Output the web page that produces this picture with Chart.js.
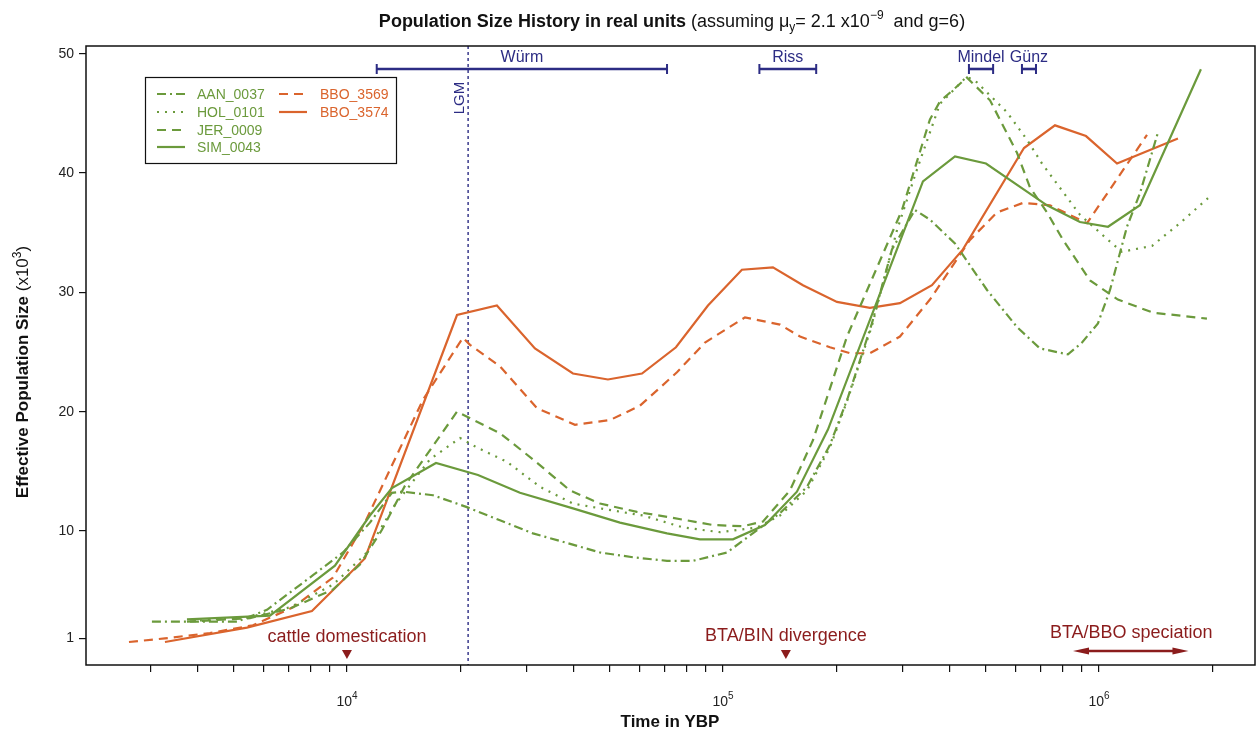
<!DOCTYPE html>
<html>
<head>
<meta charset="utf-8">
<title>Population Size History</title>
<script src="https://cdn.jsdelivr.net/npm/chart.js@4.4.1/dist/chart.umd.min.js"></script>
<style>
html, body { margin: 0; padding: 0; background: #fff; }
#wrap { position: relative; width: 1256px; height: 733px; }
</style>
</head>
<body>
<div id="wrap"><canvas id="psmcChart" width="1256" height="733"></canvas></div>
<script>
// years before present (x) and effective population size in thousands (y)
const aanX = [3029, 5098, 6128, 8122, 9759, 11510, 13170, 14090, 16930, 20850, 25520, 31240, 38470, 47100, 57640, 70990, 83230, 102500, 141800, 167300, 192500, 215000, 249000, 281500, 323900, 355200, 414000, 503800, 605300, 696800, 827200, 901500, 993800, 1070000, 1187000, 1285000, 1435000];
const aanY = [2.4, 2.4, 3.4, 6.3, 8.2, 10.7, 13.2, 13.3, 13.0, 12.0, 10.9, 9.8, 9.0, 8.2, 7.8, 7.5, 7.5, 8.2, 11.5, 13.7, 17.2, 21.2, 27.4, 33.6, 36.9, 36.1, 34.1, 30.2, 27.1, 25.3, 24.8, 25.8, 27.4, 30.2, 35.5, 38.3, 43.4];

const holX = [4064, 5521, 7053, 9180, 11160, 13420, 16620, 19980, 22170, 26640, 32610, 39910, 49150, 61270, 78280, 98170, 123200, 141800, 167300, 192500, 215000, 249000, 290200, 328100, 377600, 445600, 473700, 569300, 643500, 705400, 890200, 1057000, 1151000, 1384000, 1642000, 1950000];
const holY = [2.5, 2.8, 3.6, 5.5, 8.0, 12.2, 16.0, 17.8, 17.0, 15.8, 13.7, 12.3, 11.8, 11.3, 10.3, 9.9, 10.3, 11.3, 13.4, 17.0, 21.1, 27.2, 35.2, 40.3, 45.8, 48.1, 47.6, 45.1, 42.8, 40.8, 36.5, 34.4, 33.4, 33.9, 35.8, 37.9];

const jerX = [3754, 5521, 7053, 9180, 10830, 12390, 14270, 19620, 25520, 31240, 39190, 47100, 59070, 73620, 94060, 113000, 127800, 150700, 173500, 196100, 213700, 299300, 355200, 377600, 445600, 513100, 605300, 655400, 727400, 802300, 946600, 1123000, 1392000, 1937000];
const jerY = [2.4, 2.7, 3.5, 5.1, 7.2, 10.1, 13.8, 20.0, 18.2, 16.0, 13.4, 12.3, 11.6, 11.1, 10.5, 10.4, 10.8, 13.4, 17.6, 22.7, 26.3, 36.9, 44.5, 46.0, 48.0, 46.1, 41.7, 38.8, 36.7, 34.4, 31.0, 29.4, 28.3, 27.8];

const simX = [3754, 6242, 9290, 11510, 13170, 17250, 22310, 28850, 39910, 53220, 70990, 86850, 106300, 129300, 157300, 190200, 340300, 414000, 500600, 727400, 890200, 1057000, 1285000, 1867000];
const simY = [2.6, 2.9, 7.1, 11.3, 13.6, 15.7, 14.7, 13.2, 11.9, 10.7, 9.8, 9.3, 9.3, 10.5, 13.3, 18.5, 39.3, 41.4, 40.8, 37.3, 35.9, 35.5, 37.3, 48.7];

const bbo3569X = [2632, 3281, 4321, 5623, 7185, 9180, 11160, 15930, 20340, 21240, 25520, 32010, 40400, 50060, 60160, 75450, 89580, 114400, 141800, 160300, 192500, 217700, 246000, 295600, 355200, 453900, 535500, 628000, 740700, 929400, 1342000];
const bbo3569Y = [0.7, 1.0, 1.45, 2.1, 3.6, 6.1, 10.7, 21.0, 26.2, 25.6, 23.8, 20.3, 18.9, 19.3, 20.5, 23.3, 25.8, 27.9, 27.3, 26.3, 25.4, 24.9, 24.9, 26.3, 29.4, 34.4, 36.7, 37.5, 37.3, 35.8, 43.2];

const bbo3574X = [3281, 5420, 8070, 11160, 19620, 25050, 31620, 39910, 49440, 60900, 74990, 91230, 112300, 135800, 163200, 201000, 246000, 295600, 359600, 434800, 631800, 763800, 923600, 1117000, 1622000];
const bbo3574Y = [0.7, 1.9, 3.3, 7.7, 28.1, 28.9, 25.3, 23.2, 22.7, 23.2, 25.4, 28.9, 31.9, 32.1, 30.6, 29.2, 28.7, 29.1, 30.6, 33.6, 42.1, 44.0, 43.1, 40.8, 42.9];

// axis ticks
const xTickVals = [3000, 4000, 5000, 6000, 7000, 8000, 9000, 1e4, 2e4, 3e4, 4e4, 5e4, 6e4, 7e4, 8e4, 9e4, 1e5, 2e5, 3e5, 4e5, 5e5, 6e5, 7e5, 8e5, 9e5, 1e6, 2e6];
const xLabelVals = [1e4, 1e5, 1e6];
const xLabelExps = ['4', '5', '6'];
const yTickVals = [1, 10, 20, 30, 40, 50];

// annotations (years)
const glacialNames = ['Würm', 'Riss', 'Mindel', 'Günz'];
const glacialStart = [12000, 125000, 451000, 624000];
const glacialEnd = [71000, 177000, 523000, 680000];
const lgmYear = 21000;
const eventNames = ['cattle domestication', 'BTA/BIN divergence'];
const eventYears = [10000, 147000];
const speciationName = 'BTA/BBO speciation';
const speciationRange = [853000, 1730000];

const FONT = "'Liberation Sans', Arial, Helvetica, sans-serif";
const GREEN = '#6b9a3c';
const ORANGE = '#da642d';
const NAVY = '#2c2c84';
const DARKRED = '#8b1c1c';

const series = [
	{ label: 'AAN_0037', xs: aanX, ys: aanY, color: GREEN, dash: [9, 4, 2, 4] },
	{ label: 'HOL_0101', xs: holX, ys: holY, color: GREEN, dash: [2, 6] },
	{ label: 'JER_0009', xs: jerX, ys: jerY, color: GREEN, dash: [9, 6] },
	{ label: 'SIM_0043', xs: simX, ys: simY, color: GREEN, dash: [] },
	{ label: 'BBO_3569', xs: bbo3569X, ys: bbo3569Y, color: ORANGE, dash: [9, 6] },
	{ label: 'BBO_3574', xs: bbo3574X, ys: bbo3574Y, color: ORANGE, dash: [] },
];

function pointsOf(xs, ys) {
	return xs.map(function (x, i) { return { x: x, y: ys[i] }; });
}

function drawRich(ctx, parts, x, y, align) {
	let w = 0;
	parts.forEach(function (p) { ctx.font = p.font; w += ctx.measureText(p.text).width; });
	let cx = align === 'center' ? x - w / 2 : x;
	ctx.textAlign = 'left';
	parts.forEach(function (p) {
		ctx.font = p.font;
		ctx.fillText(p.text, cx, y + (p.dy || 0));
		cx += ctx.measureText(p.text).width;
	});
}

const decorPlugin = {
	id: 'decor',
	beforeDatasetsDraw(chart) {
		const { ctx, chartArea: a, scales: { x } } = chart;
		const lx = x.getPixelForValue(lgmYear);
		ctx.save();
		ctx.strokeStyle = NAVY;
		ctx.lineWidth = 1.4;
		ctx.setLineDash([3, 3]);
		ctx.beginPath();
		ctx.moveTo(lx, a.top);
		ctx.lineTo(lx, a.bottom);
		ctx.stroke();
		ctx.restore();
	},
	afterDraw(chart) {
		const { ctx, chartArea: a, scales: { x } } = chart;
		ctx.save();
		ctx.setLineDash([]);

		// frame
		ctx.strokeStyle = '#111';
		ctx.lineWidth = 1.5;
		ctx.strokeRect(a.left, a.top, a.right - a.left, a.bottom - a.top);

		// title
		ctx.fillStyle = '#111';
		ctx.textBaseline = 'alphabetic';
		drawRich(ctx, [
			{ text: 'Population Size History in real units', font: 'bold 18px ' + FONT },
			{ text: ' (assuming \u03bc', font: '18px ' + FONT },
			{ text: 'y', font: '12px ' + FONT, dy: 4 },
			{ text: '= 2.1 x10', font: '18px ' + FONT },
			{ text: '\u22129', font: '12px ' + FONT, dy: -8 },
			{ text: '  and g=6)', font: '18px ' + FONT },
		], 672, 27, 'center');

		// x title
		ctx.font = 'bold 17px ' + FONT;
		ctx.textAlign = 'center';
		ctx.fillText('Time in YBP', 670, 727);

		// y title
		ctx.save();
		ctx.translate(28, 372);
		ctx.rotate(-Math.PI / 2);
		drawRich(ctx, [
			{ text: 'Effective Population Size', font: 'bold 17px ' + FONT },
			{ text: ' (x10', font: '17px ' + FONT },
			{ text: '3', font: '12px ' + FONT, dy: -7 },
			{ text: ')', font: '17px ' + FONT },
		], 0, 0, 'center');
		ctx.restore();

		// x tick labels 10^n
		ctx.fillStyle = '#222';
		xLabelVals.forEach(function (v, i) {
			const px = x.getPixelForValue(v);
			ctx.font = '14px ' + FONT;
			const w1 = ctx.measureText('10').width;
			ctx.font = '10px ' + FONT;
			const w2 = ctx.measureText(xLabelExps[i]).width;
			const sx = px - (w1 + w2) / 2;
			ctx.textAlign = 'left';
			ctx.font = '14px ' + FONT;
			ctx.fillText('10', sx, 706);
			ctx.font = '10px ' + FONT;
			ctx.fillText(xLabelExps[i], sx + w1, 699);
		});

		// glacial periods
		ctx.strokeStyle = NAVY;
		ctx.fillStyle = NAVY;
		ctx.textAlign = 'center';
		ctx.font = '16px ' + FONT;
		const gy = a.top + 23;
		glacialNames.forEach(function (name, i) {
			const x1 = x.getPixelForValue(glacialStart[i]);
			const x2 = x.getPixelForValue(glacialEnd[i]);
			ctx.lineWidth = 2.6;
			ctx.beginPath();
			ctx.moveTo(x1, gy);
			ctx.lineTo(x2, gy);
			ctx.stroke();
			ctx.lineWidth = 2;
			ctx.beginPath();
			ctx.moveTo(x1, gy - 5); ctx.lineTo(x1, gy + 5);
			ctx.moveTo(x2, gy - 5); ctx.lineTo(x2, gy + 5);
			ctx.stroke();
			ctx.fillText(name, (x1 + x2) / 2, a.top + 16);
		});

		// LGM label
		ctx.save();
		ctx.translate(x.getPixelForValue(lgmYear) - 4, a.top + 52);
		ctx.rotate(-Math.PI / 2);
		ctx.textAlign = 'center';
		ctx.font = '15px ' + FONT;
		ctx.fillText('LGM', 0, 0);
		ctx.restore();

		// events
		ctx.fillStyle = DARKRED;
		ctx.strokeStyle = DARKRED;
		ctx.font = '18px ' + FONT;
		ctx.textAlign = 'center';
		eventNames.forEach(function (name, i) {
			const ex = x.getPixelForValue(eventYears[i]);
			ctx.fillText(name, ex, a.bottom - 23 - i * 1.5);
			ctx.beginPath();
			ctx.moveTo(ex - 5, a.bottom - 15);
			ctx.lineTo(ex + 5, a.bottom - 15);
			ctx.lineTo(ex, a.bottom - 6);
			ctx.closePath();
			ctx.fill();
		});
		const s1 = x.getPixelForValue(speciationRange[0]);
		const s2 = x.getPixelForValue(speciationRange[1]);
		ctx.fillText(speciationName, Math.sqrt(s1 * s2) + 2, a.bottom - 27);
		const ay = a.bottom - 14;
		ctx.lineWidth = 2.6;
		ctx.beginPath();
		ctx.moveTo(s1 + 10, ay);
		ctx.lineTo(s2 - 10, ay);
		ctx.stroke();
		ctx.beginPath();
		ctx.moveTo(s1, ay); ctx.lineTo(s1 + 16, ay - 3.5); ctx.lineTo(s1 + 16, ay + 3.5); ctx.closePath();
		ctx.moveTo(s2, ay); ctx.lineTo(s2 - 16, ay - 3.5); ctx.lineTo(s2 - 16, ay + 3.5); ctx.closePath();
		ctx.fill();

		// legend
		ctx.fillStyle = '#fff';
		ctx.fillRect(145.5, 77.5, 251, 86);
		ctx.strokeStyle = '#111';
		ctx.lineWidth = 1.2;
		ctx.strokeRect(145.5, 77.5, 251, 86);
		const rows = [94, 112, 130, 147];
		ctx.font = '14px ' + FONT;
		ctx.textAlign = 'left';
		ctx.textBaseline = 'middle';
		series.forEach(function (s, i) {
			const col = i < 4 ? 0 : 1;
			const row = i < 4 ? i : i - 4;
			const lx = col === 0 ? 157 : 279;
			const tx = col === 0 ? 197 : 320;
			ctx.strokeStyle = s.color;
			ctx.lineWidth = 2.2;
			ctx.setLineDash(s.dash);
			ctx.beginPath();
			ctx.moveTo(lx, rows[row]);
			ctx.lineTo(lx + 28, rows[row]);
			ctx.stroke();
			ctx.setLineDash([]);
			ctx.fillStyle = s.color;
			ctx.fillText(s.label, tx, rows[row] + 1);
		});
		ctx.restore();
	}
};

const ctx = document.getElementById('psmcChart').getContext('2d');
const chart = new Chart(ctx, {
	type: 'scatter',
	data: {
		datasets: series.map(function (s) {
			return {
				label: s.label,
				data: pointsOf(s.xs, s.ys),
				showLine: true,
				borderColor: s.color,
				backgroundColor: s.color,
				borderWidth: 2.2,
				borderDash: s.dash,
				pointRadius: 0,
				pointHoverRadius: 0,
				tension: 0,
				fill: false,
			};
		}),
	},
	options: {
		responsive: false,
		animation: false,
		devicePixelRatio: 1,
		events: [],
		layout: { padding: { top: 46, right: 1, left: 0, bottom: 0 } },
		plugins: {
			legend: { display: false },
			tooltip: { enabled: false },
			title: { display: false },
		},
		scales: {
			x: {
				type: 'logarithmic',
				min: 2023,
				max: 2600000,
				afterBuildTicks: function (scale) {
					scale.ticks = xTickVals.map(function (v) { return { value: v }; });
				},
				afterFit: function (scale) { scale.height = 68; },
				ticks: { display: false, autoSkip: false },
				grid: { drawOnChartArea: false, drawTicks: true, tickLength: 7, color: '#111', lineWidth: 1.2 },
				border: { display: false },
			},
			y: {
				type: 'linear',
				min: -1.23,
				max: 50.65,
				afterBuildTicks: function (scale) {
					scale.ticks = yTickVals.map(function (v) { return { value: v }; });
				},
				afterFit: function (scale) { scale.width = 86; },
				ticks: {
					autoSkip: false,
					color: '#222',
					padding: 5,
					font: { family: FONT, size: 14 },
					callback: function (value) { return String(value); },
				},
				grid: { drawOnChartArea: false, drawTicks: true, tickLength: 7, color: '#111', lineWidth: 1.2 },
				border: { display: false },
			},
		},
	},
	plugins: [decorPlugin],
});
</script>
</body>
</html>
